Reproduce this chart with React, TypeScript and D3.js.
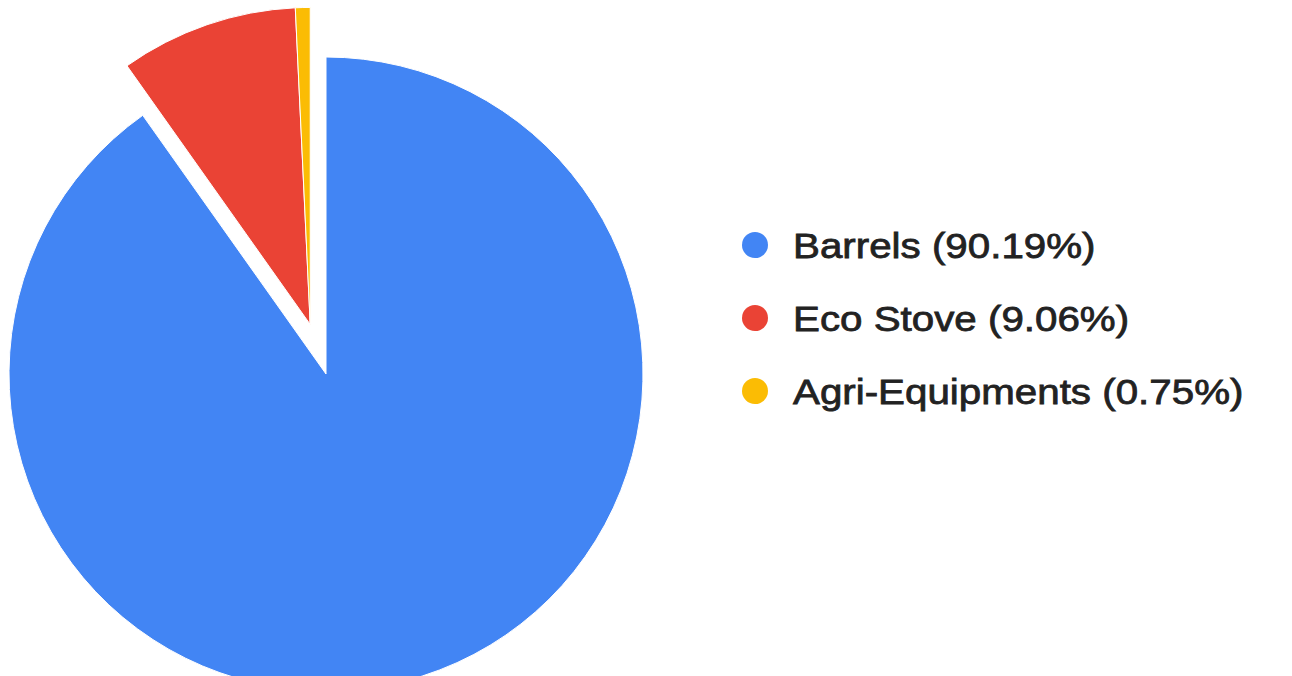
import React from "react";
import * as d3 from "d3";

const categories = ["Barrels", "Eco Stove", "Agri-Equipments"];
const values = [90.19, 9.06, 0.75];
const legendLabels = ["Barrels (90.19%)", "Eco Stove (9.06%)", "Agri-Equipments (0.75%)"];
const colors = ["#4285F4", "#EA4335", "#FBBC04"];
const exploded = [false, true, true];

const W = 1292;
const H = 676;
const cx = 326;
const cy = 374;
const R = 317;
const explodeDist = 52;

export default function App() {
  const pie = d3
    .pie<number>()
    .sort(null)
    .startAngle(0)
    .endAngle(2 * Math.PI)
    .value((d) => d);
  const arcs = pie(values);
  const arc = d3.arc<d3.PieArcDatum<number>>().innerRadius(0).outerRadius(R);

  // exploded group shares one offset along the group's mid angle
  const ex = arcs.filter((_, i) => exploded[i]);
  const gStart = d3.min(ex, (a) => a.startAngle) ?? 0;
  const gEnd = d3.max(ex, (a) => a.endAngle) ?? 0;
  const gMid = (gStart + gEnd) / 2;
  const dx = Math.sin(gMid) * explodeDist;
  const dy = -Math.cos(gMid) * explodeDist;

  const legendX = 755;
  const legendY0 = 245;
  const legendStep = 73;

  return (
    <svg
      width={W}
      height={H}
      style={{ position: "absolute", left: 0, top: 0, background: "#fff" }}
    >
      <g transform={`translate(${cx},${cy})`}>
        {arcs.map((a, i) => (
          <path
            key={categories[i]}
            d={arc(a) ?? ""}
            fill={colors[i]}
            stroke="#fff"
            strokeWidth={1}
            transform={exploded[i] ? `translate(${dx},${dy})` : undefined}
          />
        ))}
      </g>
      <g>
        {legendLabels.map((t, i) => (
          <g key={t} transform={`translate(${legendX},${legendY0 + i * legendStep})`}>
            <circle cx={0} cy={0} r={13} fill={colors[i]} />
            <g transform="translate(38,0) scale(1.12,1)">
              <text
                x={0}
                y={0}
                dy="0.36em"
                fontFamily="'Liberation Sans', Arial, sans-serif"
                fontSize={36}
                fill="#222"
                stroke="#222"
                strokeWidth={0.8}
              >
                {t}
              </text>
            </g>
          </g>
        ))}
      </g>
    </svg>
  );
}
